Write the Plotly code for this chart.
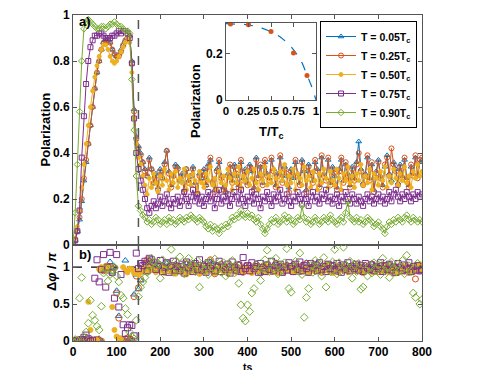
import plotly.graph_objects as go

# ---------------- data ----------------
t = list(range(0, 805, 5))  # sampling times 0..800

labels = ["T = 0.05T<sub>c</sub>", "T = 0.25T<sub>c</sub>", "T = 0.50T<sub>c</sub>",
          "T = 0.75T<sub>c</sub>", "T = 0.90T<sub>c</sub>"]
colors = ["#0072BD", "#D95319", "#EDB120", "#7E2F8E", "#77AC30"]
symbols = ["triangle-up-open", "circle-open", "circle", "square-open", "diamond-open"]

# panel a) polarization, t = 0..145
pol_005_rise = [0.00,0.02,0.06,0.11,0.19,0.28,0.36,0.44,0.52,0.60,0.68,0.75,0.80,0.85,0.88,0.89,0.89,0.88,0.85,0.83,0.82,0.83,0.85,0.87,0.89,0.90,0.91,0.80,0.59,0.47]
pol_025_rise = [0.00,0.02,0.06,0.12,0.20,0.29,0.37,0.44,0.52,0.60,0.68,0.75,0.80,0.85,0.88,0.89,0.89,0.88,0.85,0.83,0.82,0.82,0.84,0.87,0.89,0.90,0.91,0.79,0.58,0.46]
pol_050_rise = [0.00,0.03,0.08,0.15,0.25,0.35,0.44,0.52,0.60,0.67,0.73,0.78,0.82,0.85,0.87,0.87,0.85,0.82,0.80,0.79,0.80,0.82,0.84,0.86,0.88,0.90,0.88,0.75,0.55,0.44]
pol_075_rise = [0.00,0.02,0.06,0.15,0.38,0.56,0.70,0.80,0.86,0.89,0.91,0.91,0.92,0.92,0.91,0.90,0.90,0.90,0.91,0.91,0.92,0.93,0.92,0.93,0.93,0.92,0.90,0.79,0.55,0.40]
pol_090_rise = [0.00,0.14,0.35,0.58,0.80,0.94,0.97,0.98,0.97,0.96,0.95,0.94,0.94,0.95,0.95,0.94,0.95,0.96,0.96,0.97,0.96,0.95,0.95,0.94,0.93,0.93,0.92,0.72,0.50,0.30]

# panel a) polarization, t = 150..800
pol_005_flat = [0.43,0.40,0.36,0.33,0.30,0.38,0.33,0.27,0.31,0.25,
                0.33,0.29,0.36,0.41,0.32,0.26,0.30,0.35,0.34,0.28,
                0.31,0.24,0.33,0.28,0.30,0.34,0.27,0.22,0.31,0.29,
                0.33,0.26,0.35,0.37,0.28,0.24,0.33,0.36,0.30,0.25,
                0.23,0.31,0.34,0.28,0.35,0.30,0.26,0.36,0.29,0.33,
                0.27,0.35,0.32,0.25,0.38,0.30,0.34,0.27,0.36,0.31,
                0.29,0.37,0.33,0.26,0.31,0.38,0.28,0.34,0.30,0.25,
                0.33,0.29,0.36,0.31,0.27,0.37,0.32,0.24,0.35,0.30,
                0.28,0.36,0.33,0.26,0.38,0.31,0.29,0.37,0.27,0.34,
                0.30,0.25,0.33,0.37,0.28,0.35,0.31,0.26,0.34,0.29,
                0.36,0.45,0.33,0.27,0.31,0.38,0.29,0.35,0.24,0.32,
                0.37,0.30,0.26,0.34,0.39,0.31,0.28,0.36,0.33,0.27,
                0.35,0.30,0.37,0.29,0.26,0.34,0.31,0.38,0.30,0.36,
                0.37]
pol_025_flat = [0.42,0.39,0.36,0.32,0.30,0.37,0.33,0.27,0.30,0.24,
                0.32,0.29,0.35,0.41,0.31,0.25,0.30,0.34,0.33,0.28,
                0.30,0.23,0.33,0.27,0.30,0.33,0.26,0.22,0.30,0.29,
                0.32,0.26,0.34,0.38,0.27,0.23,0.32,0.37,0.29,0.24,
                0.23,0.30,0.35,0.27,0.34,0.31,0.25,0.37,0.28,0.32,
                0.26,0.34,0.33,0.24,0.37,0.29,0.35,0.26,0.37,0.30,
                0.28,0.38,0.32,0.25,0.30,0.39,0.27,0.33,0.31,0.23,
                0.32,0.30,0.37,0.30,0.26,0.36,0.33,0.23,0.34,0.31,
                0.27,0.37,0.32,0.25,0.39,0.30,0.28,0.38,0.26,0.33,
                0.31,0.24,0.32,0.38,0.27,0.36,0.30,0.25,0.33,0.28,
                0.35,0.40,0.32,0.26,0.30,0.39,0.28,0.36,0.23,0.31,
                0.36,0.29,0.25,0.35,0.38,0.30,0.42,0.35,0.32,0.26,
                0.34,0.29,0.38,0.28,0.25,0.35,0.30,0.39,0.29,0.37,
                0.38]
pol_050_flat = [0.38,0.35,0.30,0.26,0.22,0.29,0.25,0.31,0.27,0.23,
                0.30,0.26,0.33,0.28,0.24,0.31,0.27,0.32,0.25,0.29,
                0.27,0.33,0.24,0.30,0.26,0.31,0.28,0.23,0.32,0.27,
                0.25,0.31,0.28,0.34,0.26,0.29,0.24,0.32,0.27,0.30,
                0.26,0.33,0.29,0.24,0.31,0.27,0.34,0.25,0.30,0.28,
                0.32,0.26,0.29,0.33,0.27,0.24,0.31,0.28,0.34,0.26,
                0.30,0.27,0.33,0.29,0.25,0.32,0.28,0.35,0.26,0.30,
                0.27,0.33,0.24,0.31,0.29,0.26,0.34,0.28,0.30,0.25,
                0.32,0.28,0.24,0.31,0.27,0.33,0.29,0.25,0.32,0.28,
                0.26,0.33,0.29,0.24,0.31,0.28,0.34,0.27,0.30,0.25,
                0.31,0.28,0.35,0.26,0.30,0.27,0.33,0.24,0.31,0.29,
                0.26,0.32,0.28,0.34,0.25,0.30,0.27,0.33,0.29,0.26,
                0.31,0.28,0.34,0.27,0.30,0.25,0.32,0.29,0.35,0.30,
                0.32]
pol_075_flat = [0.33,0.28,0.24,0.20,0.16,0.14,0.17,0.19,0.16,0.18,
                0.21,0.17,0.19,0.22,0.18,0.16,0.20,0.18,0.21,0.17,
                0.19,0.23,0.20,0.17,0.21,0.24,0.19,0.22,0.18,0.21,
                0.17,0.20,0.23,0.19,0.22,0.16,0.20,0.24,0.18,0.21,
                0.19,0.22,0.17,0.20,0.23,0.21,0.18,0.24,0.20,0.17,
                0.21,0.19,0.23,0.18,0.22,0.20,0.16,0.21,0.19,0.23,
                0.20,0.17,0.22,0.19,0.21,0.24,0.18,0.20,0.22,0.19,
                0.17,0.21,0.19,0.23,0.20,0.18,0.22,0.20,0.17,0.21,
                0.23,0.19,0.21,0.18,0.22,0.20,0.24,0.19,0.21,0.18,
                0.20,0.22,0.17,0.21,0.19,0.23,0.20,0.18,0.22,0.20,
                0.18,0.21,0.19,0.17,0.20,0.22,0.19,0.21,0.18,0.20,
                0.22,0.19,0.21,0.18,0.20,0.23,0.19,0.22,0.24,0.21,
                0.19,0.22,0.20,0.23,0.21,0.19,0.22,0.20,0.23,0.21,
                0.22]
pol_090_flat = [0.17,0.15,0.13,0.12,0.10,0.11,0.09,0.10,0.12,0.11,
                0.09,0.10,0.11,0.09,0.12,0.10,0.11,0.09,0.10,0.12,
                0.11,0.10,0.12,0.11,0.13,0.12,0.11,0.10,0.12,0.11,
                0.10,0.08,0.07,0.09,0.06,0.08,0.07,0.05,0.08,0.07,
                0.09,0.08,0.10,0.12,0.11,0.13,0.12,0.15,0.13,0.12,
                0.14,0.12,0.13,0.11,0.10,0.12,0.09,0.07,0.05,0.07,
                0.09,0.11,0.10,0.12,0.09,0.10,0.11,0.13,0.10,0.12,
                0.11,0.09,0.10,0.12,0.11,0.17,0.12,0.10,0.11,0.09,
                0.10,0.12,0.11,0.09,0.10,0.12,0.11,0.10,0.13,0.11,
                0.10,0.09,0.11,0.12,0.10,0.14,0.19,0.12,0.11,0.10,
                0.12,0.10,0.11,0.09,0.10,0.12,0.11,0.10,0.08,0.09,
                0.10,0.08,0.07,0.05,0.08,0.10,0.09,0.11,0.10,0.12,
                0.11,0.10,0.12,0.13,0.11,0.10,0.12,0.11,0.10,0.11,
                0.10]

# panel b) phase difference / pi, t = 0..145
phi_005_early = [0.00,0.00,0.01,0.00,0.01,0.00,0.02,0.00,0.01,0.00,0.02,0.01,0.03,0.00,0.96,0.98,0.99,1.07,0.93,1.00,0.68,0.34,0.03,0.01,1.09,0.05,0.03,0.02,0.63,0.90]
phi_025_early = [0.00,0.00,0.00,0.01,0.00,0.01,0.00,0.02,0.00,0.01,0.00,0.02,0.01,0.00,0.95,0.97,1.00,1.01,0.92,0.99,0.65,0.31,0.02,0.00,0.03,0.04,0.02,0.01,0.60,0.88]
phi_050_early = [0.00,0.01,0.00,0.02,0.01,0.03,0.00,0.53,0.15,0.02,0.00,0.01,0.97,1.00,0.98,1.02,0.96,0.99,0.46,0.15,0.06,0.04,0.03,1.00,0.96,0.93,0.98,0.97,0.92,0.95]
phi_075_early = [0.00,0.00,0.01,0.00,0.02,0.05,0.08,0.03,0.00,0.01,0.85,1.10,0.80,0.97,1.17,0.73,1.00,1.20,0.93,0.58,1.17,0.46,0.90,0.22,0.10,0.18,0.22,0.21,0.07,1.19]
phi_090_early = [0.00,0.02,0.01,0.58,0.86,0.05,0.12,0.24,0.55,0.35,0.28,0.20,0.15,0.47,0.92,0.98,0.81,0.90,0.96,1.00,0.88,0.80,0.62,0.58,0.44,0.36,0.12,0.06,0.03,0.28]

# panel b) phase difference / pi, t = 150..800
phi_005_late = [0.70,0.82,0.93,1.03,1.08,1.10,1.06,1.02,0.98,1.01,
                0.97,1.03,0.99,1.05,0.96,1.01,0.94,1.04,1.00,0.97,
                1.02,0.98,1.05,0.95,1.00,1.03,0.97,1.01,0.93,0.99,
                1.04,0.98,1.01,1.07,0.96,0.92,1.02,0.99,1.05,0.97,
                1.00,0.95,1.03,0.98,1.01,0.96,1.04,0.99,0.94,1.02,
                0.97,1.03,1.00,0.96,1.05,0.99,0.93,1.02,0.98,1.04,
                1.01,0.95,0.99,1.06,0.97,1.02,0.94,1.00,1.03,0.98,
                0.96,1.04,0.99,1.01,0.95,1.03,0.98,1.06,0.97,1.00,
                1.02,0.96,1.05,0.99,0.94,1.01,0.98,1.04,0.97,1.02,
                0.99,0.95,1.03,1.00,0.97,1.04,0.96,1.01,0.98,1.05,
                0.97,1.02,0.99,0.94,1.03,1.00,0.96,1.05,0.98,1.01,
                0.95,1.03,0.99,1.02,0.96,1.04,0.98,0.93,1.01,0.97,
                1.03,0.99,0.96,1.02,0.94,1.00,0.97,1.03,0.99,0.96,
                0.98]
phi_025_late = [0.72,0.84,0.95,1.05,1.10,1.08,1.04,1.00,0.97,1.02,
                0.98,1.01,0.97,1.06,0.95,1.00,0.93,1.03,0.99,0.96,
                1.01,0.97,1.04,0.94,0.99,1.02,0.96,1.00,0.92,0.98,
                1.03,0.97,1.00,1.10,0.95,0.91,1.01,0.98,1.04,0.96,
                0.99,0.94,1.02,0.97,1.00,0.95,1.03,0.98,0.93,1.01,
                0.96,1.02,0.99,0.95,1.04,0.98,0.92,1.01,0.97,1.03,
                1.00,0.94,0.98,1.05,0.96,1.01,0.93,0.99,1.02,0.97,
                0.95,1.03,0.98,1.00,0.94,1.02,0.97,1.05,0.96,0.99,
                1.01,0.95,1.04,0.98,0.93,1.00,0.97,1.03,0.96,1.01,
                0.98,0.94,1.02,0.99,0.96,1.03,0.95,1.00,0.97,1.04,
                0.96,1.01,0.98,0.93,1.02,0.99,0.95,1.04,0.97,1.00,
                0.94,1.02,0.98,1.01,0.95,1.03,0.97,0.92,1.00,0.96,
                1.02,0.98,0.95,1.01,0.93,0.99,0.96,0.84,0.98,0.95,
                0.97]
phi_050_late = [0.90,0.93,0.97,1.00,0.94,0.98,0.96,1.00,0.93,0.97,
                0.95,0.99,0.92,0.97,1.01,0.94,0.98,0.91,0.96,1.00,
                0.93,0.97,0.90,0.99,0.95,1.02,0.94,0.98,0.91,0.96,
                0.99,0.93,0.97,1.01,0.95,0.92,0.98,0.96,1.00,0.94,
                0.97,0.91,0.99,0.95,1.02,0.93,0.97,1.00,0.94,0.98,
                0.95,0.99,0.92,0.97,1.01,0.94,0.98,0.96,1.03,0.93,
                0.97,1.00,0.94,0.98,0.92,0.99,0.96,1.02,0.95,0.97,
                1.00,0.93,0.98,0.95,1.01,0.94,0.97,0.99,0.92,0.96,
                0.98,0.94,1.00,0.96,0.93,0.99,1.04,0.95,0.98,0.92,
                0.97,1.01,0.94,0.98,0.96,1.00,0.93,0.97,0.99,0.95,
                1.02,0.94,0.98,0.92,0.97,1.00,0.95,0.99,0.93,0.97,
                0.96,1.00,0.94,0.98,1.02,0.93,0.97,0.95,0.99,0.92,
                0.98,0.95,1.01,0.94,0.97,0.99,0.93,1.03,0.96,1.04,
                0.97]
phi_075_late = [0.98,1.05,1.02,1.08,0.95,1.12,1.10,1.06,0.97,1.03,
                1.09,0.94,1.00,1.06,0.93,1.02,1.08,0.96,1.01,0.95,
                1.04,0.92,1.07,0.99,1.03,0.94,1.05,0.97,1.10,0.96,
                1.01,0.93,1.06,0.98,1.03,0.95,1.02,1.08,0.94,1.00,
                0.97,1.04,0.92,1.07,1.00,0.96,1.03,0.94,1.13,0.98,
                1.02,0.95,1.06,0.98,1.01,0.93,1.05,0.99,0.94,1.03,
                0.97,1.08,0.95,1.02,0.99,1.04,0.93,1.00,0.96,1.06,
                1.01,0.94,1.04,0.97,1.07,0.95,1.02,0.98,0.93,1.05,
                0.99,1.03,0.95,1.06,0.97,1.01,0.94,1.04,0.98,1.02,
                0.96,1.05,0.99,0.93,1.03,0.97,1.06,0.95,1.01,0.98,
                1.04,0.96,1.02,0.94,1.05,0.99,0.97,1.03,0.95,1.01,
                0.98,1.06,0.94,1.02,0.97,1.04,0.96,1.00,0.93,1.05,
                0.99,0.95,1.03,0.97,1.06,0.94,1.01,0.96,1.02,0.95,
                0.97]
phi_090_late = [0.60,0.73,0.80,0.86,0.93,1.02,1.12,1.07,0.99,1.04,
                0.85,1.10,0.96,1.05,1.02,1.24,0.93,1.08,0.97,1.14,
                1.00,0.91,1.06,1.12,0.98,1.03,0.94,1.09,0.73,1.01,
                0.96,1.05,0.90,1.08,0.99,1.11,0.95,1.02,0.93,1.06,
                0.88,1.04,0.97,1.09,0.92,1.01,0.78,0.49,0.31,0.27,
                0.49,0.40,0.65,0.71,1.03,0.95,0.82,0.98,1.10,1.23,
                0.94,1.07,0.99,1.12,0.91,1.03,0.96,1.06,1.25,0.71,
                0.66,1.00,1.08,0.95,1.19,0.90,0.32,0.59,0.71,1.02,
                0.93,1.09,0.98,1.04,0.88,1.13,0.73,1.01,0.94,1.07,
                1.24,0.91,1.06,0.95,1.27,1.02,0.97,1.08,0.85,1.03,
                0.94,1.05,0.70,0.73,0.96,0.88,1.01,0.92,1.06,0.97,
                1.03,0.90,1.12,0.95,1.00,0.86,1.07,0.98,0.93,1.04,
                0.96,1.09,0.91,1.16,1.02,0.94,0.65,0.59,1.05,0.50,
                0.56]

pol_series = [pol_005_rise + pol_005_flat, pol_025_rise + pol_025_flat, pol_050_rise + pol_050_flat,
              pol_075_rise + pol_075_flat, pol_090_rise + pol_090_flat]
phi_series = [phi_005_early + phi_005_late, phi_025_early + phi_025_late, phi_050_early + phi_050_late,
              phi_075_early + phi_075_late, phi_090_early + phi_090_late]
for s in pol_series + phi_series:
    assert len(s) == len(t), len(s)

# inset: steady-state polarization vs T/Tc
inset_T = [0.05, 0.25, 0.5, 0.75, 0.9]
inset_P = [0.326, 0.323, 0.294, 0.201, 0.105]
fit_T = [0.0, 0.1, 0.2, 0.3, 0.4, 0.5, 0.6, 0.7, 0.8, 0.85, 0.9, 0.95, 1.0]
fit_P = [0.327, 0.326, 0.324, 0.318, 0.308, 0.293, 0.271, 0.240, 0.190, 0.155, 0.110, 0.060, 0.0]

quench_t = 150

# ---------------- figure ----------------
W, H = 479, 370
FONT = "Liberation Sans"
AX = "#555555"

def px(x):
    return x / W

def py(y):
    return (H - y) / H

fig = go.Figure()
sizes = [5, 5, 4, 5, 5]
for i in range(5):
    fig.add_trace(go.Scatter(
        x=t, y=pol_series[i], name=labels[i], mode="lines+markers",
        line=dict(color=colors[i], width=1),
        marker=dict(symbol=symbols[i], size=sizes[i], color=colors[i], line=dict(width=1, color=colors[i])),
        xaxis="x", yaxis="y"))
for i in range(5):
    fig.add_trace(go.Scatter(
        x=t, y=phi_series[i], mode="markers", showlegend=False,
        marker=dict(symbol=symbols[i], size=sizes[i] + 1, color=colors[i], line=dict(width=1, color=colors[i])),
        xaxis="x2", yaxis="y2"))

fig.add_trace(go.Scatter(x=fit_T, y=fit_P, mode="lines", showlegend=False,
                         line=dict(color="#0072BD", width=1.2, dash="dash"), xaxis="x3", yaxis="y3"))
fig.add_trace(go.Scatter(x=inset_T, y=inset_P, mode="markers", showlegend=False,
                         marker=dict(color="#D95319", size=5, symbol="circle"), xaxis="x3", yaxis="y3"))

axis_common = dict(showline=True, linecolor=AX, linewidth=1, mirror="ticks", ticks="inside",
                   ticklen=4, tickcolor=AX, showgrid=False, zeroline=False, automargin=False,
                   tickfont=dict(family=FONT, size=12, color="black", weight="bold"))

xdom = [px(73), px(422)]
fig.update_layout(
    template="none",
    width=W, height=H, autosize=False,
    margin=dict(l=0, r=0, t=0, b=0, pad=0),
    paper_bgcolor="white", plot_bgcolor="white",
    font=dict(family=FONT, size=12, color="black", weight="bold"),
    xaxis=dict(domain=xdom, range=[0, 800], tickvals=list(range(0, 900, 100)), showticklabels=False,
               anchor="y", **axis_common),
    yaxis=dict(domain=[py(245), py(15)], range=[0, 1], tickvals=[0, 0.2, 0.4, 0.6, 0.8, 1],
               ticktext=["0", "0.2", "0.4", "0.6", "0.8", "1"], anchor="x", **axis_common),
    xaxis2=dict(domain=xdom, range=[0, 800], tickvals=list(range(0, 900, 100)), anchor="y2",
                tickangle=0, **axis_common),
    yaxis2=dict(domain=[py(341), py(245)], range=[0, 1.3], tickvals=[0, 0.5, 1],
                ticktext=["0", "0.5", "1"], anchor="x2", **axis_common),
    xaxis3=dict(domain=[px(226), px(316)], range=[0, 1], tickvals=[0, 0.25, 0.5, 0.75, 1],
                ticktext=["0", "0.25", "0.5", "0.75", "1"], anchor="y3", tickangle=0,
                **{**axis_common, "tickfont": dict(family=FONT, size=11.5, color="black", weight="bold")}),
    yaxis3=dict(domain=[py(100), py(23)], range=[0, 0.33], tickvals=[0, 0.2],
                ticktext=["0", "0.2"], anchor="x3", **axis_common),
    legend=dict(x=px(417), y=py(21), xanchor="right", yanchor="top",
                bordercolor="black", borderwidth=1, bgcolor="white",
                font=dict(family=FONT, size=10.5, color="black", weight="bold"),
                tracegroupgap=0, itemwidth=30),
    showlegend=True,
)

fig.add_shape(type="line", xref="x", yref="y", x0=quench_t, x1=quench_t, y0=0, y1=1,
              line=dict(color=AX, width=1.5, dash="dash"))
fig.add_shape(type="line", xref="x2", yref="y2", x0=quench_t, x1=quench_t, y0=0, y1=1.3,
              line=dict(color=AX, width=1.5, dash="dash"))
fig.add_shape(type="line", xref="x2", yref="y2", x0=0, x1=800, y0=1, y1=1, layer="below",
              line=dict(color="black", width=1.2, dash="dash"))

ann_font = dict(family=FONT, size=13, color="black", weight="bold")
fig.add_annotation(text="a)", x=px(77), y=py(22), xref="paper", yref="paper",
                   xanchor="left", yanchor="middle", showarrow=False, font=ann_font)
fig.add_annotation(text="b)", x=px(77), y=py(254), xref="paper", yref="paper",
                   xanchor="left", yanchor="middle", showarrow=False, font=ann_font)
fig.add_annotation(text="Polarization", x=px(35), y=py(130), xref="paper", yref="paper",
                   textangle=-90, showarrow=False, font=ann_font)
fig.add_annotation(text="Δ<i>φ</i> / <i>π</i>", x=px(42), y=py(293), xref="paper", yref="paper",
                   textangle=-90, showarrow=False, font=ann_font)
fig.add_annotation(text="Polarization", x=px(196), y=py(62), xref="paper", yref="paper",
                   textangle=-90, showarrow=False, font=ann_font)
fig.add_annotation(text="T/T<sub>c</sub>", x=px(271), y=py(132), xref="paper", yref="paper",
                   showarrow=False, font=ann_font)
fig.add_annotation(text="ts", x=px(247), y=py(359), xref="paper", yref="paper",
                   yanchor="top", showarrow=False, font=dict(family=FONT, size=10.5, color="black", weight="bold"))

fig.write_html("out.html", config={"displayModeBar": False},
               post_script="document.body.style.margin='0px';document.body.style.overflow='hidden';")
